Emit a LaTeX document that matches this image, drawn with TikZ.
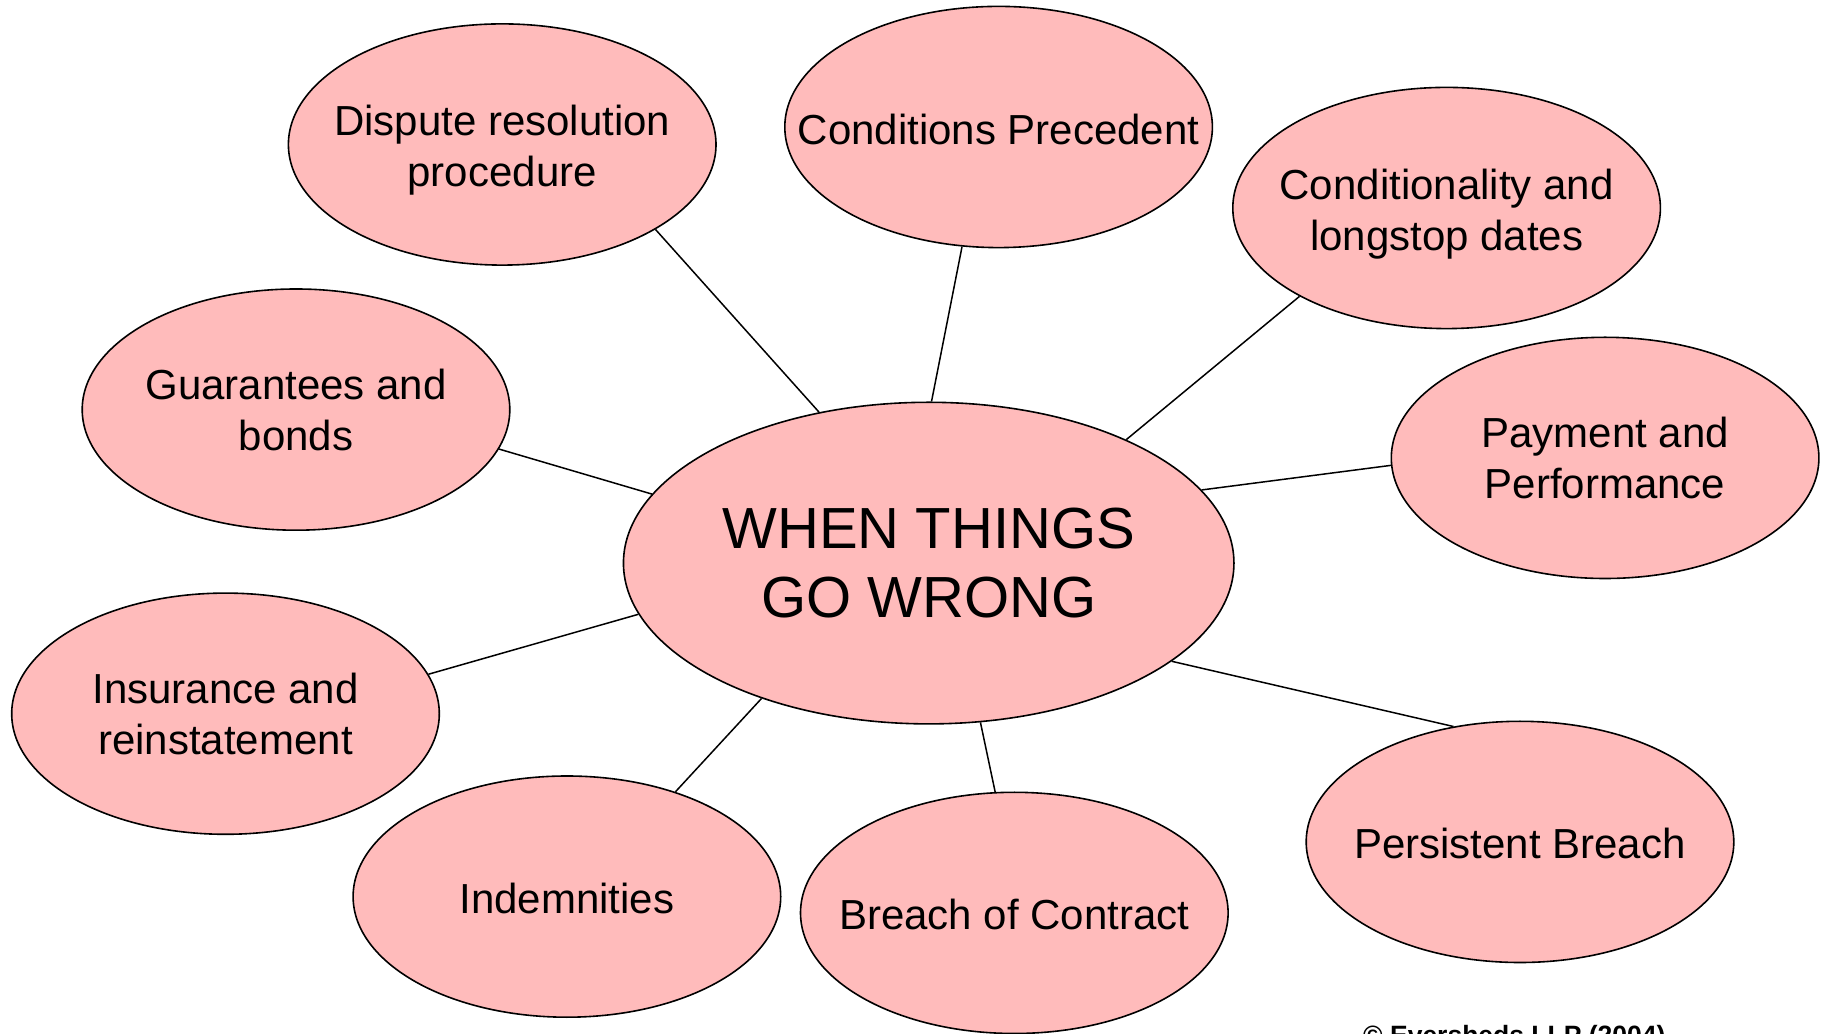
\documentclass[tikz,border=0pt]{standalone}
\usepackage{fontspec}
\setmainfont{Liberation Sans}
\usetikzlibrary{shapes.geometric}
\definecolor{bubble}{RGB}{255,187,187}
\begin{document}
\begin{tikzpicture}[x=1pt,y=1pt,
  bub/.style={ellipse, draw=black, line width=1.6pt, fill=bubble, inner sep=0pt,
    minimum width=427.6pt, minimum height=241.2pt},
  txt/.style={align=center, font=\fontsize{42}{51}\selectfont, inner sep=0pt},
  txtlow/.style={txt, yshift=-6pt},
  txtone/.style={txt, yshift=-2pt},
  link/.style={draw=black, line width=1.5pt}]
\useasboundingbox (0,0) rectangle (1827,1033);
\node[bub, minimum width=610.5pt, minimum height=321.6pt,
  label={[align=center, inner sep=0pt, font=\fontsize{58}{69}\selectfont]center:{WHEN THINGS\\GO WRONG}}] (c) at (928.7,469.9) {};
\node[bub, label={[txtlow]center:{Dispute resolution\\procedure}}] (dis) at (502.2,888.5) {};
\node[bub, label={[txtone]center:{Conditions Precedent}}] (cp) at (998.6,906.0) {};
\node[bub, label={[txtlow]center:{Conditionality and\\longstop dates}}] (cl) at (1446.6,825.0) {};
\node[bub, label={[txt]center:{Payment and\\Performance}}] (pay) at (1605.1,575.1) {};
\node[bub, label={[txtone]center:{Persistent Breach}}] (pb) at (1520.0,191.1) {};
\node[bub, label={[txtone]center:{Breach of Contract}}] (bc) at (1014.3,120.1) {};
\node[bub, label={[txtone]center:{Indemnities}}] (ind) at (566.9,136.4) {};
\node[bub, label={[txt]center:{Insurance and\\reinstatement}}] (ins) at (225.5,319.3) {};
\node[bub, label={[txt]center:{Guarantees and\\bonds}}] (gua) at (296.0,623.4) {};
\node[anchor=base west, inner sep=0pt, font=\bfseries\fontsize{26.5}{31}\selectfont] (copy) at (1363,-11) {© Eversheds LLP (2004)};
\draw[link] (dis.-29.6) -- (c.126);
\draw[link] (cp.-107) -- (c.89.6);
\draw[link] (cl.-149.2) -- (c.32.2);
\draw[link] (pay.182) -- (c.15.2);
\draw[link] (pb.120.7) -- (c.-22.2);
\draw[link] (bc.99.6) -- (c.-72.7);
\draw[link] (ind.44.4) -- (c.-141.8);
\draw[link] (ins.11.6) -- (c.-170.7);
\draw[link] (gua.-11.5) -- (c.166.9);
\end{tikzpicture}
\end{document}
